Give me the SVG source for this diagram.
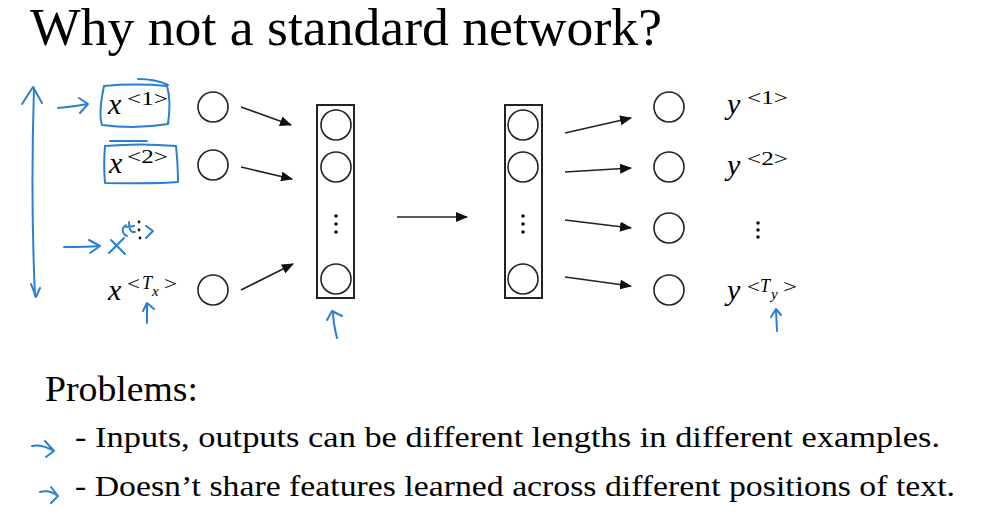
<svg xmlns="http://www.w3.org/2000/svg" width="993" height="512" viewBox="0 0 993 512">
<style>
.node{fill:#fff;stroke:#222;stroke-width:1.6}
.box{fill:none;stroke:#222;stroke-width:2}
.conn{stroke:#222;stroke-width:1.6;fill:none;marker-end:url(#ah)}
.ink{fill:none;stroke:#2a7fd4;stroke-width:2;stroke-linecap:round;stroke-linejoin:round}
.dot{fill:#111}
</style>
<defs>
<marker id="ah" viewBox="0 0 12 10" refX="11" refY="5" markerWidth="12" markerHeight="10" markerUnits="userSpaceOnUse" orient="auto">
<path d="M0,0 L12,5 L0,10 z" fill="#111"/>
</marker>
</defs>
<rect width="993" height="512" fill="#fff"/>
<text x="30" y="45" style="font-family:'Liberation Serif',serif" font-size="52" textLength="632" lengthAdjust="spacingAndGlyphs">Why not a standard network?</text>

<g id="input-labels">
<text x="108" y="114" style="font-family:'Liberation Serif',serif;font-style:italic" font-size="30">x</text>
<text x="127" y="105" style="font-family:'Liberation Serif',serif" font-size="18" textLength="41" lengthAdjust="spacingAndGlyphs">&lt;1&gt;</text>
<text x="109" y="173" style="font-family:'Liberation Serif',serif;font-style:italic" font-size="30">x</text>
<text x="127" y="163" style="font-family:'Liberation Serif',serif" font-size="18" textLength="41" lengthAdjust="spacingAndGlyphs">&lt;2&gt;</text>
<text x="108" y="300" style="font-family:'Liberation Serif',serif;font-style:italic" font-size="30">x</text>
<text x="127" y="290" style="font-family:'Liberation Serif',serif" font-size="18" textLength="13" lengthAdjust="spacingAndGlyphs">&lt;</text>
<text x="142" y="289" style="font-family:'Liberation Serif',serif;font-style:italic" font-size="18">T</text>
<text x="152" y="296" style="font-family:'Liberation Serif',serif;font-style:italic" font-size="15">x</text>
<text x="164" y="290" style="font-family:'Liberation Serif',serif" font-size="18" textLength="13" lengthAdjust="spacingAndGlyphs">&gt;</text>
</g>

<g id="output-labels">
<text x="727" y="114" style="font-family:'Liberation Serif',serif;font-style:italic" font-size="30">y</text>
<text x="747" y="104" style="font-family:'Liberation Serif',serif" font-size="18" textLength="41" lengthAdjust="spacingAndGlyphs">&lt;1&gt;</text>
<text x="727" y="175" style="font-family:'Liberation Serif',serif;font-style:italic" font-size="30">y</text>
<text x="747" y="165" style="font-family:'Liberation Serif',serif" font-size="18" textLength="41" lengthAdjust="spacingAndGlyphs">&lt;2&gt;</text>
<text x="727" y="300" style="font-family:'Liberation Serif',serif;font-style:italic" font-size="30">y</text>
<text x="747" y="293" style="font-family:'Liberation Serif',serif" font-size="18" textLength="13" lengthAdjust="spacingAndGlyphs">&lt;</text>
<text x="760" y="292" style="font-family:'Liberation Serif',serif;font-style:italic" font-size="18">T</text>
<text x="771" y="299" style="font-family:'Liberation Serif',serif;font-style:italic" font-size="15">y</text>
<text x="783" y="293" style="font-family:'Liberation Serif',serif" font-size="18" textLength="14" lengthAdjust="spacingAndGlyphs">&gt;</text>
</g>

<g id="problems">
<text x="45" y="401" style="font-family:'Liberation Serif',serif" font-size="35" textLength="153" lengthAdjust="spacingAndGlyphs">Problems:</text>
<text x="75" y="447" style="font-family:'Liberation Serif',serif" font-size="29" textLength="865" lengthAdjust="spacingAndGlyphs">- Inputs, outputs can be different lengths in different examples.</text>
<text x="75" y="496" style="font-family:'Liberation Serif',serif" font-size="29" textLength="880" lengthAdjust="spacingAndGlyphs">- Doesn’t share features learned across different positions of text.</text>
</g>

<g id="input-nodes">
<circle class="node" cx="213" cy="107" r="15"/>
<circle class="node" cx="213" cy="165" r="15"/>
<circle class="node" cx="213" cy="290" r="15"/>
</g>

<g id="hidden-layer-1">
<rect class="box" x="317" y="105" width="37" height="193"/>
<circle class="node" cx="336" cy="125" r="15"/>
<circle class="node" cx="336" cy="167" r="15"/>
<circle class="node" cx="336" cy="279" r="15"/>
<circle class="dot" cx="336" cy="216" r="1.8"/><circle class="dot" cx="336" cy="224" r="1.8"/><circle class="dot" cx="336" cy="232" r="1.8"/>
</g>

<g id="hidden-layer-2">
<rect class="box" x="505" y="105" width="37" height="193"/>
<circle class="node" cx="523" cy="125" r="15"/>
<circle class="node" cx="523" cy="167" r="15"/>
<circle class="node" cx="523" cy="279" r="15"/>
<circle class="dot" cx="523" cy="216" r="1.8"/><circle class="dot" cx="523" cy="224" r="1.8"/><circle class="dot" cx="523" cy="232" r="1.8"/>
</g>

<g id="output-nodes">
<circle class="node" cx="669" cy="107" r="15"/>
<circle class="node" cx="669" cy="167" r="15"/>
<circle class="node" cx="669" cy="228" r="15"/>
<circle class="node" cx="669" cy="290" r="15"/>
<circle class="dot" cx="758" cy="223" r="1.8"/><circle class="dot" cx="758" cy="230" r="1.8"/><circle class="dot" cx="758" cy="237" r="1.8"/>
</g>

<g id="connectors">
<line class="conn" x1="241" y1="107" x2="291" y2="125"/>
<line class="conn" x1="241" y1="167" x2="292" y2="179"/>
<line class="conn" x1="241" y1="290" x2="293" y2="264"/>
<line class="conn" x1="397" y1="217" x2="467" y2="217"/>
<line class="conn" x1="565" y1="133" x2="631" y2="118"/>
<line class="conn" x1="565" y1="172" x2="631" y2="168"/>
<line class="conn" x1="565" y1="220" x2="631" y2="228"/>
<line class="conn" x1="565" y1="277" x2="631" y2="286"/>
</g>

<g id="annotations">
<path class="ink" d="M34,88 C32,150 32,230 35,296"/>
<path class="ink" d="M22,104 L33,87 L42,103"/>
<path class="ink" d="M31,284 L36,297 L40,288"/>
<path class="ink" d="M58,108 C68,107 78,106 87,104"/>
<path class="ink" d="M79,98 L88,104 L80,113"/>
<path class="ink" d="M104,86 C101,100 99,116 102,125 C125,128 150,127 168,124 C170,110 170,96 167,86 C145,84 125,84 104,86 Z"/>
<path class="ink" d="M138,79 C150,79 160,81 168,85"/>
<path class="ink" d="M105,146 C104,158 104,172 105,183 C130,183 155,184 178,182 C178,170 177,156 176,146 C152,144 128,144 105,146 Z"/>
<path class="ink" d="M110,141 L147,141"/>
<path class="ink" d="M64,247 C76,247 88,247 99,246"/>
<path class="ink" d="M89,240 L100,246 L90,253"/>
<path class="ink" d="M109,253 L124,238 M111,240 L125,254"/>
<path class="ink" d="M126,225 C121,228 122,234 127,236"/>
<path class="ink" d="M129,222 C129,228 130,233 135,232 M126,227 L134,226"/>
<path class="ink" d="M146,226 L153,231 L146,238"/>
<circle class="dot" cx="139" cy="222" r="1.4"/><circle class="dot" cx="139" cy="230" r="1.4"/><circle class="dot" cx="140" cy="238" r="1.4"/>
<path class="ink" d="M147,323 L147,304 M143,311 L147,303 L154,309"/>
<path class="ink" d="M337,338 C335,330 333,320 333,312 M327,320 L332,311 L342,316"/>
<path class="ink" d="M777,331 L776,310 M771,317 L776,309 L781,315"/>
<path class="ink" d="M32,446 C40,444 47,447 54,451 M45,441 L54,451 L46,457"/>
<path class="ink" d="M40,492 C47,490 53,492 58,496 M51,487 L58,496 L51,503"/>
</g>
</svg>
